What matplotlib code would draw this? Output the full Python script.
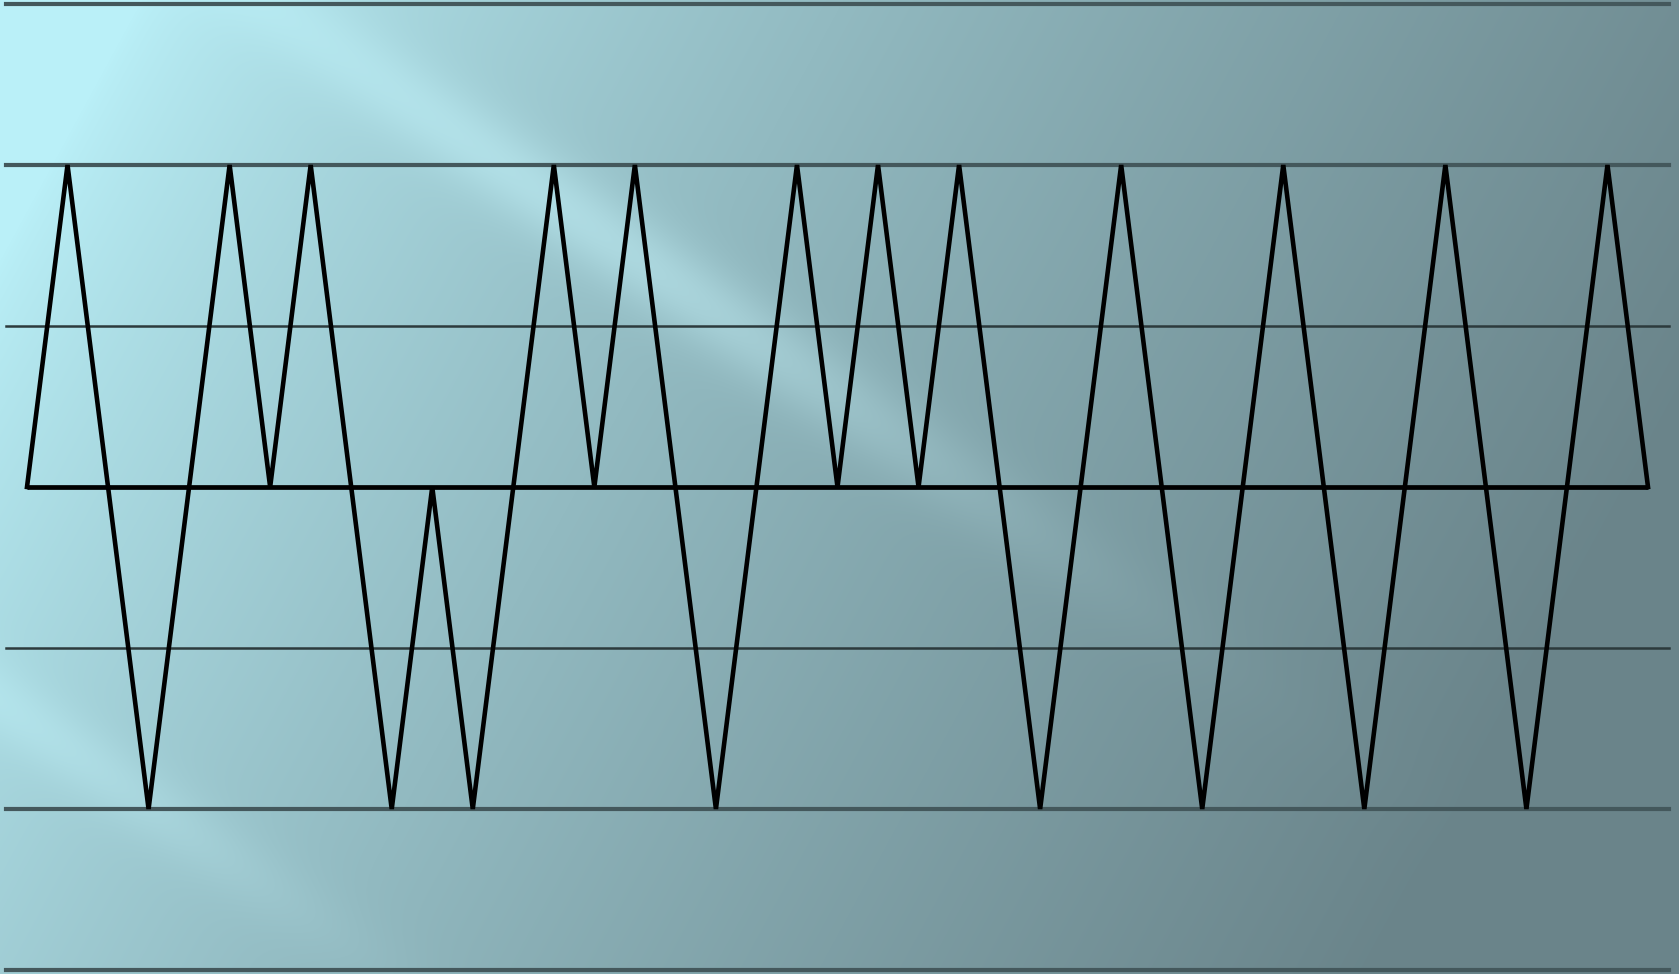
import numpy as np
import matplotlib.pyplot as plt

# signal levels at each half-bit step (0 between pulses, +/-2 at pulse peaks)
levels = [0, 2, 0, -2, 0, 2, 0, 2, 0, -2, 0, -2, 0, 2, 0, 2, 0, -2, 0, 2, 0,
          2, 0, 2, 0, -2, 0, 2, 0, -2, 0, 2, 0, -2, 0, 2, 0, -2, 0, 2, 0]
guide_levels = [-3, -2, -1, 1, 2, 3]
guide_width = {3: 3.0, 2: 3.0, 1: 1.8}
guide_color = {3: '#44585c', 2: '#44585c', 1: '#2c3a3c'}

W, H = 1679, 974
fig = plt.figure(figsize=(W / 100, H / 100), dpi=100)
ax = fig.add_axes([0, 0, 1, 1])

# background: diagonal gradient with light streaks
yy, xx = np.mgrid[0:H, 0:W].astype(float)
X, Y = xx / W, yy / H
t = np.clip(0.95 * X + 0.3 * Y - 0.08, 0, 1) ** 0.75
c0 = np.array([186, 240, 248]) / 255
c1 = np.array([106, 132, 138]) / 255
img = c0 * (1 - t[..., None]) + c1 * t[..., None]
p = (xx * 0.69 - yy) / 1.21
q = (xx + 0.69 * yy) / 1.21
s1 = np.exp(-((p - 150) / 40) ** 2) * np.exp(-((q - 700) / 450) ** 2)
s2 = np.exp(-((p + 580) / 35) ** 2) * np.exp(-((q - 500) / 300) ** 2)
img = np.clip(img + (0.10 * s1 + 0.05 * s2)[..., None] * np.array([0.9, 1, 1]), 0, 1)
ax.imshow(img, extent=[0, 1, 0, 1], transform=ax.transAxes, aspect='auto', zorder=0)

x = np.arange(len(levels))
step = 40.525
ax.set_xlim(-27 / step, (W - 27) / step)
ax.set_ylim(-487 / 161, (H - 487) / 161)

for lv in guide_levels:
    ax.axhline(lv, xmin=6 / W, xmax=1669 / W, color=guide_color[abs(lv)],
               lw=guide_width[abs(lv)], zorder=1)

ax.hlines(0, x[0], x[-1], color='black', lw=3.4, zorder=2)
ax.plot(x, levels, color='black', lw=3.3, solid_joinstyle='miter', zorder=3)

ax.axis('off')
fig.savefig('out.png', dpi=100)
